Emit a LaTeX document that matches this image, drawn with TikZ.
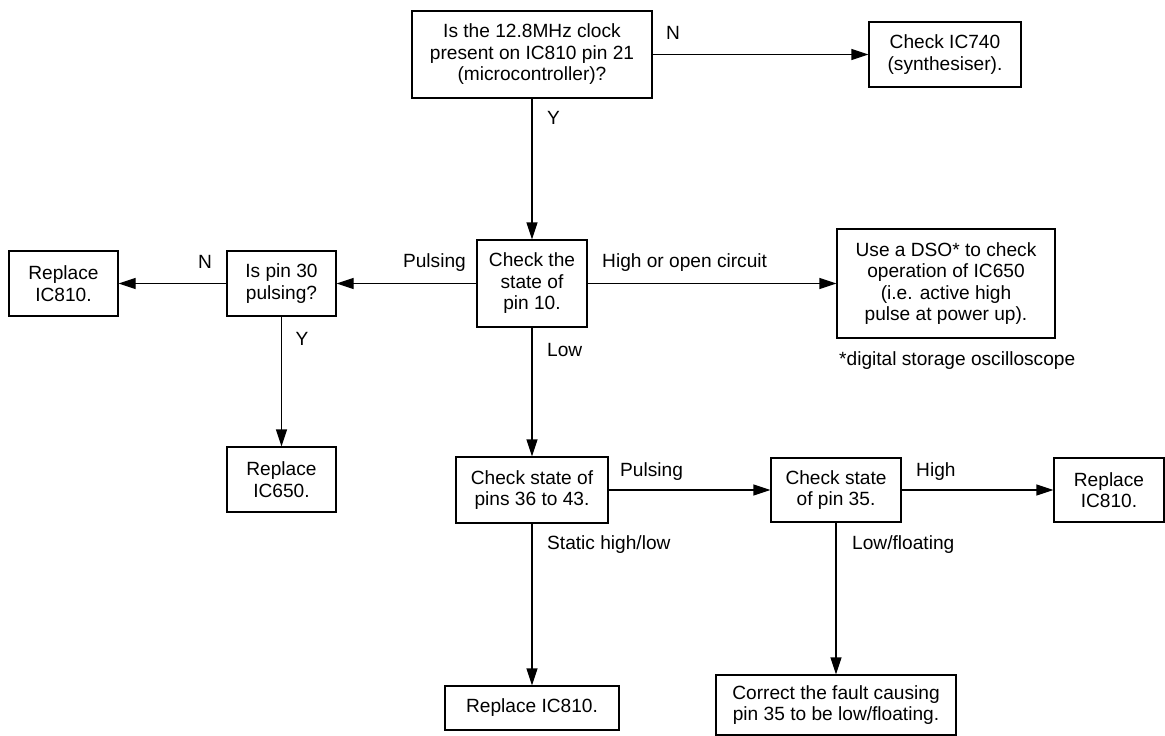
\documentclass[tikz,border=0pt]{standalone}
\usepackage{fontspec}
\setmainfont{Liberation Sans}
\usetikzlibrary{arrows.meta}
\begin{document}
\begin{tikzpicture}[x=1bp,y=-1bp,
  box/.style={draw,line width=1.2bp,rectangle,inner sep=0pt,align=center,
    font=\fontsize{19.2}{21.6}\selectfont},
  lbl/.style={inner sep=0pt,font=\fontsize{19.2}{21.6}\selectfont},
  arr/.style={line width=1.2bp,-{Triangle[length=17bp,width=11bp]}}]
\useasboundingbox (0,0) rectangle (1165,736);
\node[box,minimum width=240bp,minimum height=87bp] (q1) at (532,54.5) {Is the 12.8MHz clock\\present on IC810 pin 21\\(microcontroller)?};
\node[box,minimum width=152bp,minimum height=65bp] (ic740) at (945,54.5) {Check IC740\\(synthesiser).};
\node[box,minimum width=110bp,minimum height=87bp] (chk10) at (532,283.5) {Check the\\state of\\pin 10.};
\node[box,minimum width=218bp,minimum height=109bp] (dso) at (946,283.5) {Use a DSO* to check\\operation of IC650\\(i.e. active high\\pulse at power up).};
\node[box,minimum width=109bp,minimum height=65bp] (pin30) at (281.5,283.5) {Is pin 30\\pulsing?};
\node[box,minimum width=109bp,minimum height=65bp] (rep1) at (63.5,283.5) {Replace\\IC810.};
\node[box,minimum width=109bp,minimum height=65bp] (rep650) at (281.5,479.5) {Replace\\IC650.};
\node[box,minimum width=152bp,minimum height=66bp] (pins36) at (532,490) {Check state of\\pins 36 to 43.};
\node[box,minimum width=130bp,minimum height=64bp] (pin35) at (836,490) {Check state\\of pin 35.};
\node[box,minimum width=110bp,minimum height=64bp] (rep2) at (1109,490) {Replace\\IC810.};
\node[box,minimum width=174bp,minimum height=44bp] (rep3) at (532,708) {Replace IC810.};
\node[box,minimum width=240bp,minimum height=60bp] (corr) at (836,705) {Correct the fault causing\\pin 35 to be low/floating.};

\draw[arr] (q1) -- (ic740);
\draw[arr] (q1) -- (chk10);
\draw[arr] (chk10) -- (dso);
\draw[arr] (chk10) -- (pin30);
\draw[arr] (pin30) -- (rep1);
\draw[arr] (pin30) -- (rep650);
\draw[arr] (chk10) -- (pins36);
\draw[arr] (pins36) -- (pin35);
\draw[arr] (pin35) -- (rep2);
\draw[arr] (pins36) -- (rep3);
\draw[arr] (pin35) -- (corr);

\node[lbl] (lN1) at (673,33) {N};
\node[lbl,anchor=west] (lY1) at (547,118) {Y};
\node[lbl,anchor=east] (lP1) at (466,263) {Pulsing};
\node[lbl,anchor=west] (lH1) at (602,263) {High or open circuit};
\node[lbl] (lN2) at (205,262) {N};
\node[lbl] (lY2) at (302,339) {Y};
\node[lbl,anchor=west] (lL1) at (547,350) {Low};
\node[lbl,anchor=west] (fn) at (839,361) {*digital storage oscilloscope};
\node[lbl,anchor=west] (lP2) at (620,472) {Pulsing};
\node[lbl,anchor=west] (lH2) at (916,472) {High};
\node[lbl,anchor=west] (lS) at (547,545) {Static high/low};
\node[lbl,anchor=west] (lLF) at (852,545) {Low/floating};
\end{tikzpicture}
\end{document}
